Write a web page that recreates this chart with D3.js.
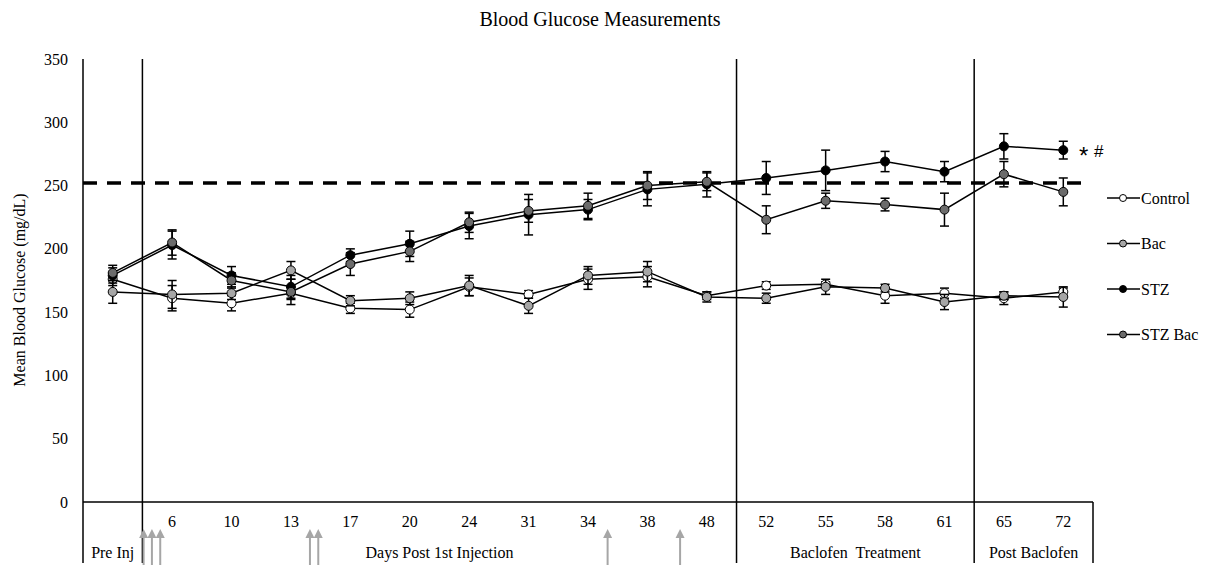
<!DOCTYPE html>
<html>
<head>
<meta charset="utf-8">
<script src="https://cdn.jsdelivr.net/npm/d3@7"></script>
<style>
  body { margin: 0; background: #fff; }
  svg text { font-family: "Liberation Serif", "Times New Roman", serif; fill: #000; }
</style>
</head>
<body>
<div class="chart"></div>
<script>
// Data.
const days = ["", "6", "10", "13", "17", "20", "24", "31", "34", "38", "48", "52", "55", "58", "61", "65", "72"];

const control    = [176, 161, 157, 165, 153, 152, 170, 164, 176, 178, 163, 171, 172, 163, 165, 161, 166];
const controlErr = [5, 10, 6, 5, 4, 6, 7, 3, 8, 8, 3, 3, 2, 6, 4, 5, 3];
const bac        = [166, 164, 165, 183, 159, 161, 171, 155, 179, 182, 162, 161, 170, 169, 158, 163, 162];
const bacErr     = [9, 11, 5, 7, 4, 5, 8, 6, 7, 8, 4, 4, 6, 3, 6, 3, 8];
const stz        = [179, 203, 179, 170, 195, 204, 218, 227, 231, 247, 251, 256, 262, 269, 261, 281, 278];
const stzErr     = [6, 11, 7, 9, 5, 10, 10, 16, 8, 13, 10, 13, 16, 8, 8, 10, 7];
const stzBac     = [181, 205, 175, 166, 188, 198, 221, 230, 234, 250, 253, 223, 238, 235, 231, 259, 245];
const stzBacErr  = [6, 10, 6, 10, 9, 8, 8, 9, 10, 11, 7, 11, 6, 5, 13, 10, 11];

const seriesNames = ["Control", "Bac", "STZ", "STZ Bac"];
const threshold = 252;
const yTicks = [0, 50, 100, 150, 200, 250, 300, 350];

// Category groups on the lower axis (start, end category index).
const groups = [
    ["Pre Inj", 0, 1],
    ["Days Post 1st Injection", 1, 11],
    ["Baclofen  Treatment", 11, 15],
    ["Post Baclofen", 15, 17]
];

// Injection arrows, as positions along the category axis.
const arrows = [1.02, 1.16, 1.30, 3.82, 3.96, 8.83, 10.05];

// Build constants.
const width = 1205, height = 565;
const plot = {left: 83, right: 1093, top: 59, bottom: 502, base: 563};
const fills = ["#ffffff", "#a6a6a6", "#000000", "#6b6b6b"];

const series = [
    {name: seriesNames[0], values: control, err: controlErr, fill: fills[0]},
    {name: seriesNames[1], values: bac, err: bacErr, fill: fills[1]},
    {name: seriesNames[2], values: stz, err: stzErr, fill: fills[2]},
    {name: seriesNames[3], values: stzBac, err: stzBacErr, fill: fills[3]}
];

const svg = d3.select('.chart')
    .append('svg')
        .attr('width', width)
        .attr('height', height);

// Scales.
const x = d3.scaleBand()
    .domain(d3.range(days.length))
    .range([plot.left, plot.right])
    .padding(0);
const xPos = d3.scaleLinear()
    .domain([0, days.length])
    .range([plot.left, plot.right]);
const y = d3.scaleLinear()
    .domain([0, 350])
    .range([plot.bottom, plot.top]);
const cx = i => x(i) + x.bandwidth() / 2;

// Title.
svg.append('text')
    .attr('x', 600)
    .attr('y', 26)
    .attr('text-anchor', 'middle')
    .attr('font-size', 20)
    .text('Blood Glucose Measurements');

// Y axis label.
svg.append('text')
    .attr('transform', 'translate(25, 290) rotate(-90)')
    .attr('text-anchor', 'middle')
    .attr('font-size', 16)
    .text('Mean Blood Glucose (mg/dL)');

// Y axis labels.
const yAxis = svg.append('g')
    .attr('transform', `translate(${plot.left},0)`)
    .call(d3.axisLeft(y).tickValues(yTicks).tickSize(0).tickPadding(15));
yAxis.select('.domain').remove();
yAxis.selectAll('text').attr('font-size', 16).attr('font-family', null);

// X axis labels.
const xAxis = svg.append('g')
    .attr('transform', `translate(0,${plot.bottom})`)
    .call(d3.axisBottom(x).tickFormat(i => days[i]).tickSize(0).tickPadding(14));
xAxis.select('.domain').remove();
xAxis.selectAll('text').attr('font-size', 16).attr('font-family', null);

// Group labels.
svg.append('g')
    .selectAll('text')
    .data(groups)
    .join('text')
        .attr('x', d => (xPos(d[1]) + xPos(d[2])) / 2)
        .attr('y', 558)
        .attr('text-anchor', 'middle')
        .attr('font-size', 16)
        .style('white-space', 'pre')
        .text(d => d[0]);

// Axis frame and dividers.
const frame = svg.append('g').attr('stroke', '#000').attr('stroke-width', 1.5);
frame.append('line')
    .attr('x1', plot.left).attr('x2', plot.right)
    .attr('y1', plot.bottom).attr('y2', plot.bottom);
frame.selectAll('.divider')
    .data([0, 1, 11, 15])
    .join('line')
        .attr('class', 'divider')
        .attr('x1', d => xPos(d)).attr('x2', d => xPos(d))
        .attr('y1', plot.top).attr('y2', plot.base);
frame.append('line')
    .attr('x1', plot.right).attr('x2', plot.right)
    .attr('y1', plot.bottom).attr('y2', plot.base);

// Injection arrows.
const arrowG = svg.append('g').attr('fill', '#a6a6a6').attr('stroke', '#a6a6a6');
arrowG.selectAll('line')
    .data(arrows)
    .join('line')
        .attr('x1', d => xPos(d)).attr('x2', d => xPos(d))
        .attr('y1', 536).attr('y2', 565)
        .attr('stroke-width', 2);
arrowG.selectAll('path')
    .data(arrows)
    .join('path')
        .attr('stroke', 'none')
        .attr('d', d => `M${xPos(d)},529 L${xPos(d) + 4.5},538 L${xPos(d) - 4.5},538 Z`);

// Threshold line.
svg.append('line')
    .attr('x1', plot.left).attr('x2', plot.right - 5)
    .attr('y1', y(threshold)).attr('y2', y(threshold))
    .attr('stroke', '#000')
    .attr('stroke-width', 3.5)
    .attr('stroke-dasharray', '14 10');

// Series.
const line = d3.line()
    .x((d, i) => cx(i))
    .y(d => y(d));

series.forEach(s => {
    const g = svg.append('g').attr('class', 'series');

    g.append('path')
        .attr('d', line(s.values))
        .attr('fill', 'none')
        .attr('stroke', '#000')
        .attr('stroke-width', 1.5);

    // Error bars.
    const bars = g.append('g')
        .attr('stroke', '#000')
        .attr('stroke-width', 1.5);
    s.values.forEach((v, i) => {
        const lo = y(v - s.err[i]), hi = y(v + s.err[i]);
        bars.append('line').attr('x1', cx(i)).attr('x2', cx(i)).attr('y1', lo).attr('y2', hi);
        bars.append('line').attr('x1', cx(i) - 4.5).attr('x2', cx(i) + 4.5).attr('y1', lo).attr('y2', lo);
        bars.append('line').attr('x1', cx(i) - 4.5).attr('x2', cx(i) + 4.5).attr('y1', hi).attr('y2', hi);
    });

    g.selectAll('circle')
        .data(s.values)
        .join('circle')
            .attr('cx', (d, i) => cx(i))
            .attr('cy', d => y(d))
            .attr('r', 4.5)
            .attr('fill', s.fill)
            .attr('stroke', '#000')
            .attr('stroke-width', 1);
});

// Significance marks.
svg.append('text')
    .attr('x', 1079)
    .attr('y', 164)
    .attr('font-size', 24)
    .style('font-family', '"Liberation Sans", Arial, sans-serif')
    .text('*');
svg.append('text')
    .attr('x', 1094)
    .attr('y', 157)
    .attr('font-size', 17)
    .style('font-family', '"Liberation Sans", Arial, sans-serif')
    .text('#');

// Legend.
const legend = svg.append('g')
    .selectAll('g')
    .data(series)
    .join('g')
        .attr('transform', (d, i) => `translate(1107, ${198 + i * 45.5})`);
legend.append('line')
    .attr('x1', 0).attr('x2', 33)
    .attr('stroke', '#000')
    .attr('stroke-width', 1.5);
legend.append('circle')
    .attr('cx', 16)
    .attr('r', 3.5)
    .attr('fill', d => d.fill)
    .attr('stroke', '#000');
legend.append('text')
    .attr('x', 34)
    .attr('dy', '0.35em')
    .attr('font-size', 16)
    .text(d => d.name);
</script>
</body>
</html>
